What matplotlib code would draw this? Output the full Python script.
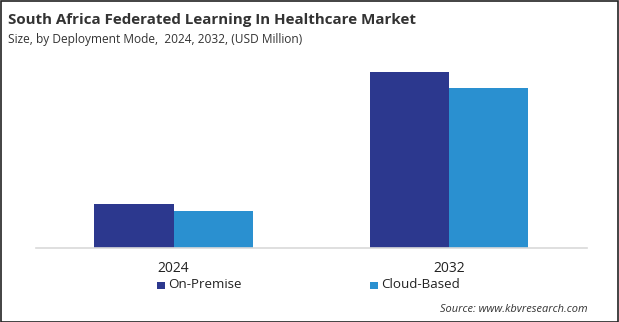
import matplotlib
matplotlib.use("Agg")
import matplotlib.pyplot as plt
from matplotlib.patches import Rectangle
import numpy as np

years = ["2024", "2032"]
series = ["On-Premise", "Cloud-Based"]
on_premise = [44.5, 176.5]
cloud_based = [37.5, 160.5]
colors = ["#2C388E", "#2A90D0"]

W, H = 619, 322
fig = plt.figure(figsize=(W / 100, H / 100), dpi=100)
fig.patch.set_facecolor("white")

font = ["Open Sans", "DejaVu Sans"]

# plot area: baseline at y=248 px, x spans 36..587 px
left, right = 35.75, 586.75
bottom_px, top_px = 248, 60
ax = fig.add_axes([left / W, (H - bottom_px) / H, (right - left) / W, (bottom_px - top_px) / H])
ax.set_xlim(-0.5, 1.5)
ax.set_ylim(0, bottom_px - top_px)

x = np.arange(len(years))
bw = 0.2868
ax.bar(x - bw / 2, on_premise, width=bw, color=colors[0], linewidth=0)
ax.bar(x + bw / 2, cloud_based, width=bw, color=colors[1], linewidth=0)

for s in ["top", "right", "left"]:
    ax.spines[s].set_visible(False)
ax.spines["bottom"].set_color("#d9d9d9")
ax.spines["bottom"].set_linewidth(1.2)
ax.set_yticks([])
ax.set_xticks(x)
ax.set_xticklabels(years, fontsize=10, family=font, color="#222222")
ax.tick_params(axis="x", length=0, pad=9)

# title and subtitle
fig.text(8 / W, 1 - 20 / H, "South Africa Federated Learning In Healthcare Market",
         fontsize=10.9, fontweight="bold", family=font, color="#333333", va="center", ha="left")
fig.text(8 / W, 1 - 40 / H, "Size, by Deployment Mode,  2024, 2032, (USD Million)",
         fontsize=8.6, family=font, color="#333333", va="center", ha="left")

# legend
legend_x = [157, 370]
for name, c, lx in zip(series, colors, legend_x):
    fig.patches.append(Rectangle((lx / W, 1 - 289 / H), 7.5 / W, 7.5 / H,
                                 transform=fig.transFigure, facecolor=c, edgecolor="none"))
    fig.text((lx + 11) / W, 1 - 285 / H, name, fontsize=9.6, family=font,
             color="#222222", va="center", ha="left")

fig.text(588 / W, 1 - 309 / H, "Source: www.kbvresearch.com", fontsize=7.9,
         family=font, style="italic", color="#333333", va="center", ha="right")

# thin frame around the image
fig.patches.append(Rectangle((0.5 / W, 0.5 / H), (W - 1.5) / W, (H - 1.5) / H,
                             transform=fig.transFigure, fill=False,
                             edgecolor="#222222", linewidth=1.2))

fig.savefig("out.png", dpi=100, facecolor="white")
